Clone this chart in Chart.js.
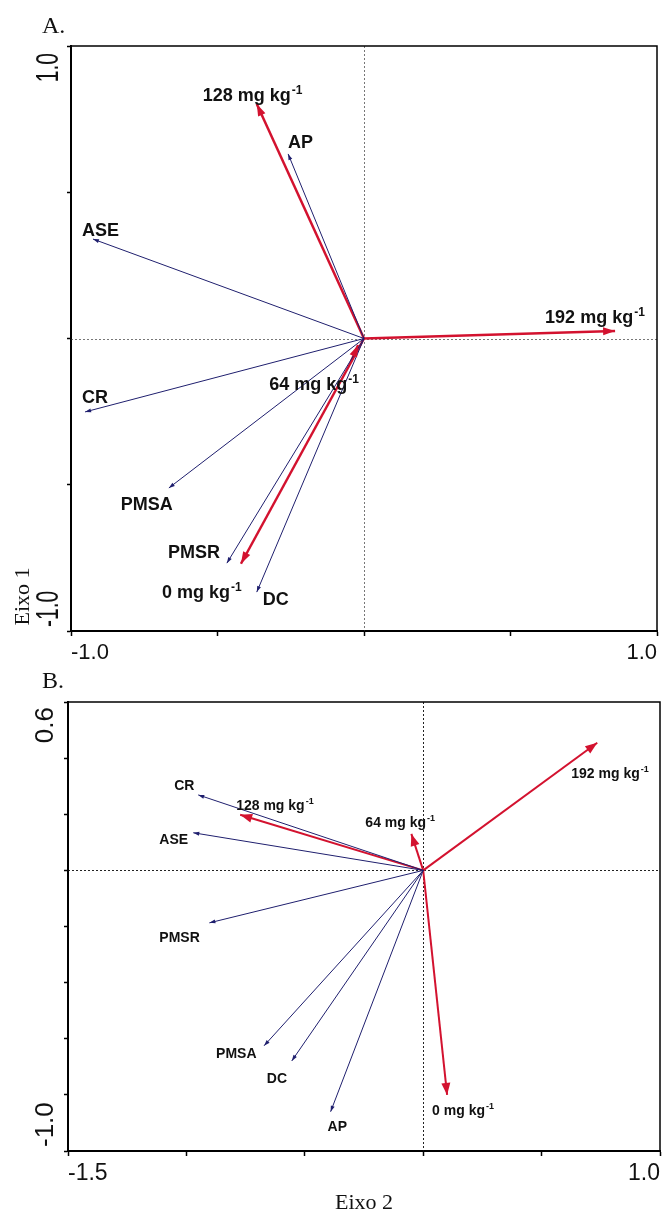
<!DOCTYPE html>
<html><head><meta charset="utf-8">
<script src="https://cdn.jsdelivr.net/npm/chart.js@4"></script>
<style>
html,body{margin:0;padding:0;background:#fff;overflow:hidden}
#wa{position:absolute;left:0;top:0;width:664px;height:665px}
#wb{position:absolute;left:0;top:665px;width:664px;height:549px}
canvas{display:block}
</style></head><body>
<div id="wa"><canvas id="ca" width="664" height="665"></canvas></div>
<div id="wb"><canvas id="cb" width="664" height="549"></canvas></div>
<script>
// ---------- Panel A data ----------
const aVars = ['AP','ASE','CR','PMSA','PMSR','DC'];
const aVarX = [-0.259,-0.925,-0.952,-0.666,-0.468,-0.366];
const aVarY = [0.631,0.340,-0.251,-0.511,-0.768,-0.867];
const aDoses = ['128 mg kg','192 mg kg','0 mg kg','64 mg kg'];
const aDoseStartX = [0,0,0,-0.045];
const aDoseStartY = [0,0,0,-0.080];
const aDoseX = [-0.366,0.857,-0.420,-0.020];
const aDoseY = [0.802,0.026,-0.770,-0.022];
const aXTicks = [-1,-0.5,0,0.5,1];
const aXTickLabels = ['-1.0','','','','1.0'];
const aYTicks = [-1,-0.5,0,0.5,1];
const aYTickLabels = ['-1.0','','','','1.0'];

// ---------- Panel B data ----------
const bVars = ['CR','ASE','PMSR','PMSA','DC','AP'];
const bVarX = [-0.950,-0.971,-0.903,-0.672,-0.555,-0.391];
const bVarY = [0.269,0.134,-0.187,-0.625,-0.679,-0.860];
const bDoses = ['128 mg kg','64 mg kg','192 mg kg','0 mg kg'];
const bDoseStartX = [0,0,0,0];
const bDoseStartY = [0,0,0,0];
const bDoseX = [-0.773,-0.050,0.735,0.101];
const bDoseY = [0.198,0.130,0.455,-0.800];
const bXTicks = [-1.5,-1.0,-0.5,0,0.5,1.0];
const bXTickLabels = ['-1.5','','','','','1.0'];
const bYTicks = [-1.0,-0.8,-0.6,-0.4,-0.2,0,0.2,0.4,0.6];
const bYTickLabels = ['-1.0','','','','','','','','0.6'];

// ---------- label placement (pixel offsets from arrow tips) ----------
const aVarLabelOff = [[0,-6],[-11,-3],[-3,-9],[-48,22],[-59,-5],[6,13]];
const aDoseLabelOff = [[-54,-3],[-70,-8],[-79,34],[-89,45]];
const bVarLabelOff = [[-24,-5],[-34,11],[-50,19],[-48,12],[-25,22],[-3,19]];
const bDoseLabelOff = [[-4,-5],[-46,-7],[-26,35],[-15,20]];

const RED = '#d3122f', BLUE = '#1f1f6e';
const SANS = '"Liberation Sans", Arial, sans-serif';
const SERIF = '"Liberation Serif", "Times New Roman", serif';

function makeDatasets(vars, vx, vy, voff, doses, sx, sy, dx, dy, doff, style) {
  const ds = [];
  vars.forEach((n, i) => ds.push({
    data: [{x:0,y:0},{x:vx[i],y:vy[i]}],
    borderColor: BLUE, borderWidth: style.varW, head: style.varHead,
    text: n, sup: '', off: voff[i]
  }));
  doses.forEach((n, i) => ds.push({
    data: [{x:sx[i],y:sy[i]},{x:dx[i],y:dy[i]}],
    borderColor: RED, borderWidth: style.doseW, head: style.doseHead,
    text: n, sup: '-1', off: doff[i]
  }));
  ds.forEach(d => { d.showLine = true; d.pointRadius = 0; d.pointHoverRadius = 0; d.fill = false; d.tension = 0; d.clip = false; });
  return ds;
}

const arrowPlugin = {
  id: 'arrowPlugin',
  beforeDatasetsDraw(chart, args, o) {
    const {ctx, chartArea: ca, scales} = chart;
    const x0 = scales.x.getPixelForValue(0), y0 = scales.y.getPixelForValue(0);
    ctx.save();
    ctx.strokeStyle = o.zeroColor; ctx.lineWidth = 1; ctx.setLineDash(o.zeroDash);
    ctx.beginPath();
    ctx.moveTo(ca.left, Math.round(y0)+0.5); ctx.lineTo(ca.right, Math.round(y0)+0.5);
    ctx.moveTo(Math.round(x0)+0.5, ca.top); ctx.lineTo(Math.round(x0)+0.5, ca.bottom);
    ctx.stroke();
    ctx.restore();
  },
  afterDatasetsDraw(chart, args, o) {
    const ctx = chart.ctx;
    chart.data.datasets.forEach((ds, i) => {
      const meta = chart.getDatasetMeta(i);
      const p0 = meta.data[0], p1 = meta.data[1];
      const a = Math.atan2(p1.y - p0.y, p1.x - p0.x);
      const L = ds.head[0], W = ds.head[1];
      const c = Math.cos(a), s = Math.sin(a);
      ctx.save();
      ctx.fillStyle = ds.borderColor;
      ctx.beginPath();
      ctx.moveTo(p1.x, p1.y);
      ctx.lineTo(p1.x - L*c + W/2*s, p1.y - L*s - W/2*c);
      ctx.lineTo(p1.x - L*c - W/2*s, p1.y - L*s + W/2*c);
      ctx.closePath(); ctx.fill();
      // label
      const lx = p1.x + ds.off[0], ly = p1.y + ds.off[1];
      ctx.fillStyle = '#111';
      ctx.textBaseline = 'alphabetic'; ctx.textAlign = 'left';
      ctx.font = o.labelFont;
      ctx.fillText(ds.text, lx, ly);
      if (ds.sup) {
        const w = ctx.measureText(ds.text).width;
        ctx.font = o.supFont;
        ctx.fillText(ds.sup, lx + w + 1, ly - o.supRaise);
      }
      ctx.restore();
    });
  },
  afterDraw(chart, args, o) {
    const {ctx, chartArea: ca, scales} = chart;
    ctx.save();
    // frame
    ctx.strokeStyle = '#000'; ctx.lineWidth = 1.5;
    ctx.strokeRect(ca.left, ca.top, ca.right - ca.left, ca.bottom - ca.top);
    // rotated y tick labels
    ctx.fillStyle = '#111';
    ctx.font = o.yTickFont;
    ctx.textBaseline = 'middle';
    const ys = o.yTicks, yl = o.yTickLabels;
    ys.forEach((v, i) => {
      if (!yl[i]) return;
      const py = scales.y.getPixelForValue(v);
      const isTop = i === ys.length - 1;
      ctx.save();
      ctx.translate(o.yTickX, isTop ? py + o.yTopGap : py - o.yBottomGap);
      ctx.rotate(-Math.PI/2);
      ctx.scale(1, o.yTickStretch);
      ctx.textAlign = isTop ? 'right' : 'left';
      ctx.fillText(yl[i], 0, 0);
      ctx.restore();
    });
    // panel letter
    ctx.font = o.letterFont; ctx.textAlign = 'left'; ctx.textBaseline = 'alphabetic';
    ctx.fillText(o.letter, o.letterPos[0], o.letterPos[1]);
    ctx.restore();
  }
};

function axisX(ticksArr, labels, fontSize, height, title) {
  return {
    type: 'linear', position: 'bottom',
    min: ticksArr[0], max: ticksArr[ticksArr.length-1],
    afterBuildTicks: s => { s.ticks = ticksArr.map(v => ({value: v})); },
    ticks: { autoSkip: false, maxRotation: 0, minRotation: 0, align: 'inner', padding: 4,
      color: '#111', font: {family: SANS, size: fontSize},
      callback: (v, i) => labels[i] },
    grid: { display: true, drawOnChartArea: false, drawTicks: true, tickLength: 5, tickColor: '#000', tickWidth: 1.5 },
    border: { display: true, color: '#000', width: 2 },
    title: title ? { display: true, text: title, color: '#111', font: {family: SERIF, size: 22, lineHeight: 1}, padding: {top: 0, bottom: 0} } : {display: false},
    afterFit: s => { s.height = height; }
  };
}
function axisY(ticksArr, width, title) {
  return {
    type: 'linear', position: 'left',
    min: ticksArr[0], max: ticksArr[ticksArr.length-1],
    afterBuildTicks: s => { s.ticks = ticksArr.map(v => ({value: v})); },
    ticks: { display: false },
    grid: { display: true, drawOnChartArea: false, drawTicks: true, tickLength: 4, tickColor: '#000', tickWidth: 1.5 },
    border: { display: true, color: '#000', width: 2 },
    title: title ? { display: true, text: title, align: 'start', color: '#111', font: {family: SERIF, size: 22, lineHeight: 1}, padding: {top: 12, bottom: 0} } : {display: false},
    afterFit: s => { s.width = width; }
  };
}

const commonPlugins = { legend: {display: false}, tooltip: {enabled: false} };

new Chart(document.getElementById('ca'), {
  type: 'scatter',
  data: { datasets: makeDatasets(aVars, aVarX, aVarY, aVarLabelOff, aDoses, aDoseStartX, aDoseStartY, aDoseX, aDoseY, aDoseLabelOff,
    {varW: 1, varHead: [6,4], doseW: 2.5, doseHead: [12,8]}) },
  options: {
    responsive: false, animation: false, devicePixelRatio: 1,
    layout: { padding: {top: 46, right: 7, left: 0, bottom: 0} },
    scales: { x: axisX(aXTicks, aXTickLabels, 22, 34, null), y: axisY(aYTicks, 71, ' Eixo 1') },
    plugins: Object.assign({}, commonPlugins, {
      arrowPlugin: { zeroColor: '#777', zeroDash: [2,2],
        labelFont: 'bold 18px ' + SANS, supFont: 'bold 12px ' + SANS, supRaise: 7,
        yTicks: aYTicks, yTickLabels: aYTickLabels, yTickFont: '21px ' + SANS, yTickX: 49, yTickStretch: 1.5,
        yTopGap: 7, yBottomGap: 4,
        letter: 'A.', letterFont: '24px ' + SERIF, letterPos: [42, 33] }
    })
  },
  plugins: [arrowPlugin]
});

new Chart(document.getElementById('cb'), {
  type: 'scatter',
  data: { datasets: makeDatasets(bVars, bVarX, bVarY, bVarLabelOff, bDoses, bDoseStartX, bDoseStartY, bDoseX, bDoseY, bDoseLabelOff,
    {varW: 1, varHead: [6,4], doseW: 2, doseHead: [12,9]}) },
  options: {
    responsive: false, animation: false, devicePixelRatio: 1,
    layout: { padding: {top: 37, right: 1, left: 0, bottom: 0} },
    scales: { x: axisX(bXTicks, bXTickLabels, 23, 63, 'Eixo 2'), y: axisY(bYTicks, 68, null) },
    plugins: Object.assign({}, commonPlugins, {
      arrowPlugin: { zeroColor: '#222', zeroDash: [2,2],
        labelFont: 'bold 14px ' + SANS, supFont: 'bold 9px ' + SANS, supRaise: 6,
        yTicks: bYTicks, yTickLabels: bYTickLabels, yTickFont: '26px ' + SANS, yTickX: 46, yTickStretch: 1,
        yTopGap: 5, yBottomGap: 4,
        letter: 'B.', letterFont: '24px ' + SERIF, letterPos: [42, 23] }
    })
  },
  plugins: [arrowPlugin]
});
</script>
</body></html>
